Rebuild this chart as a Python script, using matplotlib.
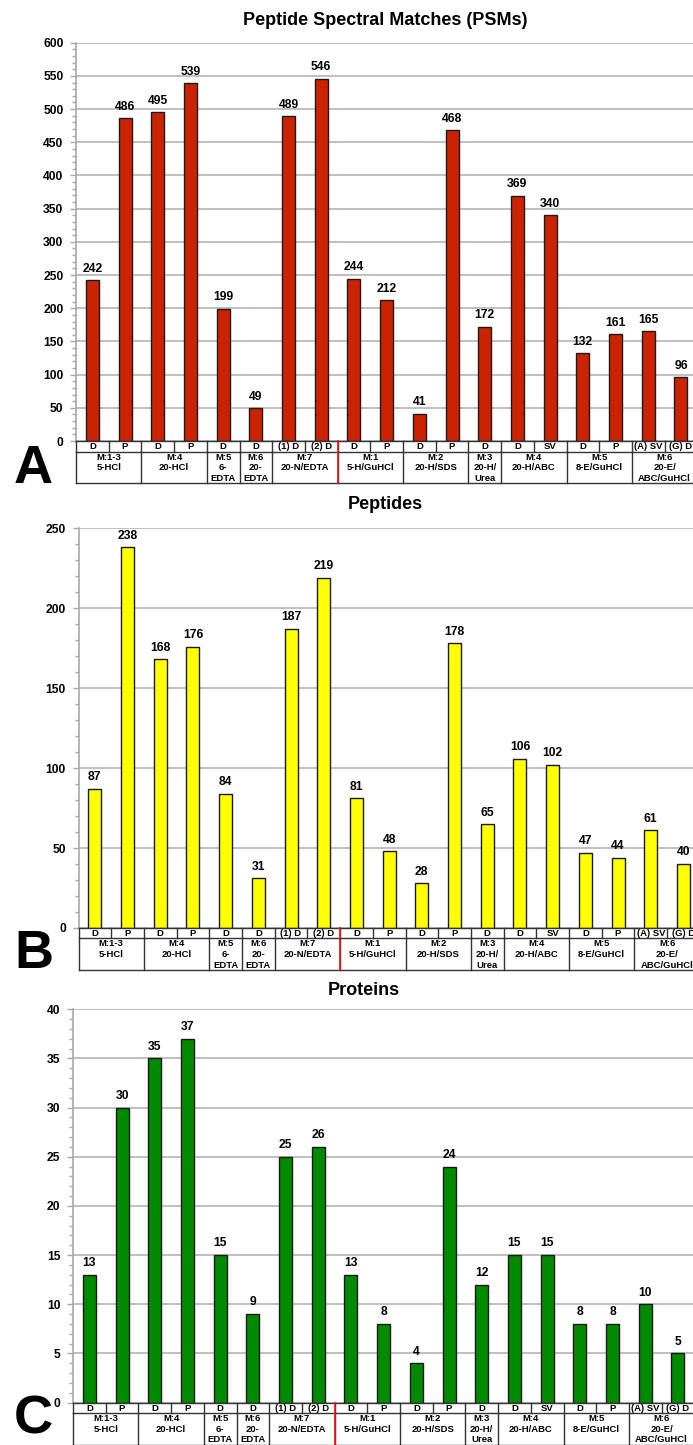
import matplotlib
matplotlib.use("Agg")
import matplotlib.pyplot as plt
from matplotlib.ticker import MultipleLocator

plt.rcParams["font.family"] = ["Liberation Sans", "DejaVu Sans"]
plt.rcParams["font.weight"] = "bold"

# ── Data ──────────────────────────────────────────────────────────
SUB_LABELS = ["D", "P", "D", "P", "D", "D", "(1) D", "(2) D", "D", "P",
              "D", "P", "D", "D", "SV", "D", "P", "(A) SV", "(G) D"]

GROUP_LABELS = ["M:1-3\n5-HCl", "M:4\n20-HCl", "M:5\n6-\nEDTA", "M:6\n20-\nEDTA",
                "M:7\n20-N/EDTA", "M:1\n5-H/GuHCl", "M:2\n20-H/SDS",
                "M:3\n20-H/\nUrea", "M:4\n20-H/ABC", "M:5\n8-E/GuHCl",
                "M:6\n20-E/\nABC/GuHCl"]
GROUP_SIZES = [2, 2, 1, 1, 2, 2, 2, 1, 2, 2, 2]

PSMS = [242, 486, 495, 539, 199, 49, 489, 546, 244, 212,
        41, 468, 172, 369, 340, 132, 161, 165, 96]
PEPTIDES = [87, 238, 168, 176, 84, 31, 187, 219, 81, 48,
            28, 178, 65, 106, 102, 47, 44, 61, 40]
PROTEINS = [13, 30, 35, 37, 15, 9, 25, 26, 13, 8,
            4, 24, 12, 15, 15, 8, 8, 10, 5]
# ──────────────────────────────────────────────────────────────────

W, H = 693, 1445
CELL = 32.7          # px per category
ROW1 = 10.5          # px, sub-label row
TABLE_H = 42.0       # px, full table height

fig = plt.figure(figsize=(W / 100, H / 100), dpi=100)

panels = [
    # values, color, ymax, major, minor, left px, top px, bottom px, title, title xc, title base, letter, letter base
    (PSMS, "#cc2200", 600, 50, 10, 76.0, 42.7, 441.0,
     "Peptide Spectral Matches (PSMs)", 385, 25, "A", 483),
    (PEPTIDES, "#ffff00", 250, 50, 10, 78.5, 528.3, 928.0,
     "Peptides", 385, 509, "B", 968),
    (PROTEINS, "#008a00", 40, 5, 1, 73.0, 1009.3, 1402.5,
     "Proteins", 364, 995, "C", 1433),
]

x = list(range(len(SUB_LABELS)))

for (vals, color, ymax, major, minor, lpx, tpx, bpx,
     title, txc, tbase, letter, lbase) in panels:
    width = len(x) * CELL / W
    ax = fig.add_axes([lpx / W, 1 - bpx / H, width, (bpx - tpx) / H])
    ax.bar(x, vals, width=0.4, color=color, edgecolor="#1a1a1a",
           linewidth=1.0, zorder=3)
    ax.set_xlim(-0.5, len(x) - 0.5)
    ax.set_ylim(0, ymax)
    ax.yaxis.set_major_locator(MultipleLocator(major))
    ax.yaxis.set_minor_locator(MultipleLocator(minor))
    ax.grid(axis="y", which="major", color="#b4b4b4", linewidth=1.2, zorder=0)
    ax.set_xticks([])
    for s in ("top", "right", "bottom"):
        ax.spines[s].set_visible(False)
    ax.spines["left"].set_color("#a8a8a8")
    ax.spines["left"].set_linewidth(1.2)
    ax.tick_params(axis="y", which="major", length=4, width=1, color="#a8a8a8",
                   labelsize=8.7, pad=5)
    ax.tick_params(axis="y", which="minor", length=3, width=1, color="#a8a8a8")
    for lab in ax.get_yticklabels():
        lab.set_fontweight("bold")

    for xi, v in zip(x, vals):
        ax.annotate(str(v), (xi, v), xytext=(0, 4), textcoords="offset points",
                    ha="center", va="bottom", fontsize=8.7, fontweight="bold",
                    annotation_clip=False)

    # table below the axis
    tax = fig.add_axes([lpx / W, 1 - (bpx + TABLE_H) / H, width, TABLE_H / H])
    tax.set_xlim(-0.5, len(x) - 0.5)
    tax.set_ylim(TABLE_H, 0)
    tax.axis("off")
    lc = "#333333"
    for yy in (0, ROW1, TABLE_H):
        tax.plot([-0.5, len(x) - 0.5], [yy, yy], color=lc, lw=1, clip_on=False)
    for i in range(len(x)):
        tax.plot([i - 0.5, i - 0.5], [0, ROW1], color=lc, lw=1, clip_on=False)
        tax.text(i, ROW1 / 2 + 0.3, SUB_LABELS[i], ha="center", va="center",
                 fontsize=6.8, fontweight="bold")
    start = 0
    for glab, gsz in zip(GROUP_LABELS, GROUP_SIZES):
        edge = start - 0.5
        tax.plot([edge, edge], [ROW1, TABLE_H], color=lc, lw=1, clip_on=False)
        tax.text(start + (gsz - 1) / 2, ROW1 + 1.0, glab, ha="center", va="top",
                 fontsize=6.8, fontweight="bold", linespacing=1.25)
        start += gsz
    # red divider between M:7 and M:1
    red_x = sum(GROUP_SIZES[:5]) - 0.5
    tax.plot([red_x, red_x], [0, TABLE_H], color="#ee1111", lw=1.2, clip_on=False)

    fig.text(txc / W, 1 - tbase / H, title, ha="center", va="baseline",
             fontsize=13, fontweight="bold")
    fig.text(14 / W, 1 - lbase / H, letter, ha="left", va="baseline",
             fontsize=39, fontweight="bold")

fig.savefig("out.png", dpi=100)
